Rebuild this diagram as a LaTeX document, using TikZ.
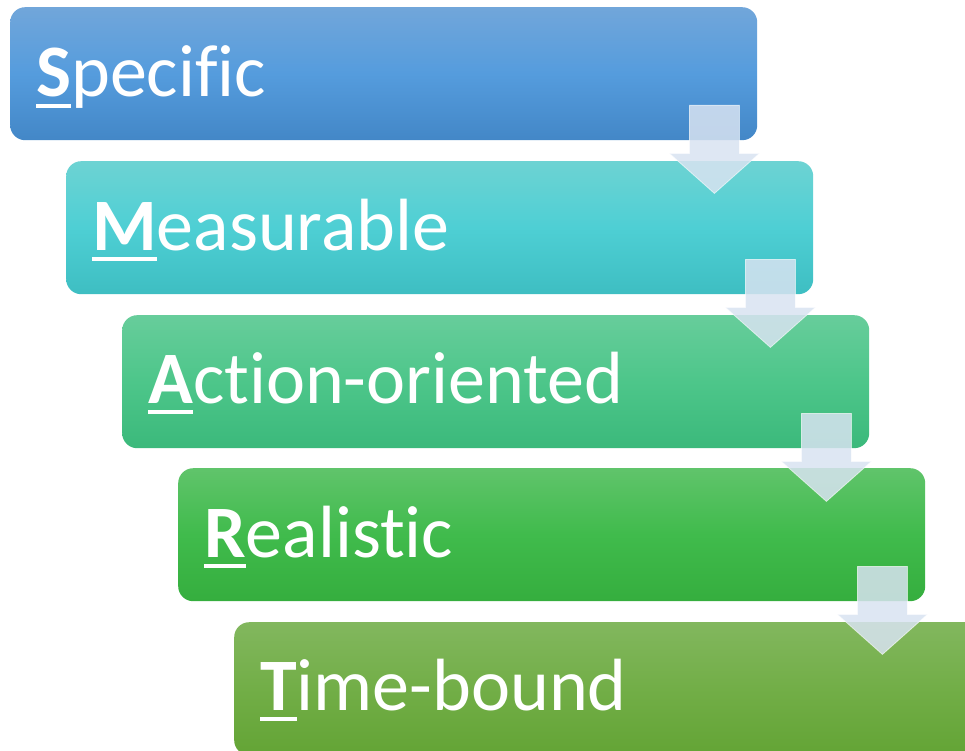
\documentclass[tikz,border=0pt]{standalone}
\usepackage{fontspec}
\setmainfont{Carlito}[Ligatures={NoCommon}]

% box shades, top to bottom
\definecolor{specTop}{HTML}{71A6DA}
\definecolor{specMid}{HTML}{559CDD}
\definecolor{specBot}{HTML}{4387C7}
\definecolor{measTop}{HTML}{6DD3D3}
\definecolor{measMid}{HTML}{4ECFD4}
\definecolor{measBot}{HTML}{3EBEC2}
\definecolor{actTop}{HTML}{67CD9B}
\definecolor{actMid}{HTML}{4DC68A}
\definecolor{actBot}{HTML}{3BB97B}
\definecolor{realTop}{HTML}{60C46B}
\definecolor{realMid}{HTML}{40BB4C}
\definecolor{realBot}{HTML}{35AE3E}
\definecolor{timeTop}{HTML}{82B75E}
\definecolor{timeMid}{HTML}{72AE47}
\definecolor{timeBot}{HTML}{63A435}
\definecolor{arrowFill}{HTML}{D8E3F1}

% bold, underlined first letter
\newcommand{\keyletter}[1]{\setbox0\hbox{\bfseries #1}\rlap{\rule[-11pt]{\wd0}{4pt}}\box0}

\begin{document}
\begin{tikzpicture}[x=1pt, y=-1pt,
  stepbox/.style={rounded corners=15pt, minimum width=747pt, minimum height=133pt,
    anchor=north west, inner sep=0pt},
  word/.style={anchor=base west, text=white, inner sep=0pt,
    font=\fontsize{74}{80}\selectfont},
  flowarrow/.style={fill=arrowFill, fill opacity=0.85, draw=white,
    draw opacity=0.6, line width=0.8pt}]
  \useasboundingbox (0,0) rectangle (965,751);
  % the five steps, each shifted right and down
  \node[stepbox, top color=specTop, bottom color=specBot, middle color=specMid] (spec) at (10,7) {};
  \node[stepbox, top color=measTop, bottom color=measBot, middle color=measMid] (meas) at (66,161) {};
  \node[stepbox, top color=actTop, bottom color=actBot, middle color=actMid] (act) at (122,315) {};
  \node[stepbox, top color=realTop, bottom color=realBot, middle color=realMid] (real) at (178,468) {};
  \node[stepbox, top color=timeTop, bottom color=timeBot, middle color=timeMid] (time) at (234,622) {};
  % labels
  \node[word] (spec-t) at ([xshift=26pt,yshift=-90pt]spec.north west) {\keyletter{S}pecific};
  \node[word] (meas-t) at ([xshift=26pt,yshift=-89pt]meas.north west) {\keyletter{M}easurable};
  \node[word] (act-t) at ([xshift=26pt,yshift=-88pt]act.north west) {\keyletter{A}ction-oriented};
  \node[word] (real-t) at ([xshift=26pt,yshift=-89pt]real.north west) {\keyletter{R}ealistic};
  \node[word] (time-t) at ([xshift=26pt,yshift=-88pt]time.north west) {\keyletter{T}ime-bound};
  % down arrows between the steps
  \foreach \s in {spec, meas, act, real}
    \draw[flowarrow, shift={(\s.south east)}] (-68,-35) -- (-18,-35) -- (-18,13) -- (2,13)
      -- (-43,53) -- (-88,13) -- (-68,13) -- cycle;
\end{tikzpicture}
\end{document}
